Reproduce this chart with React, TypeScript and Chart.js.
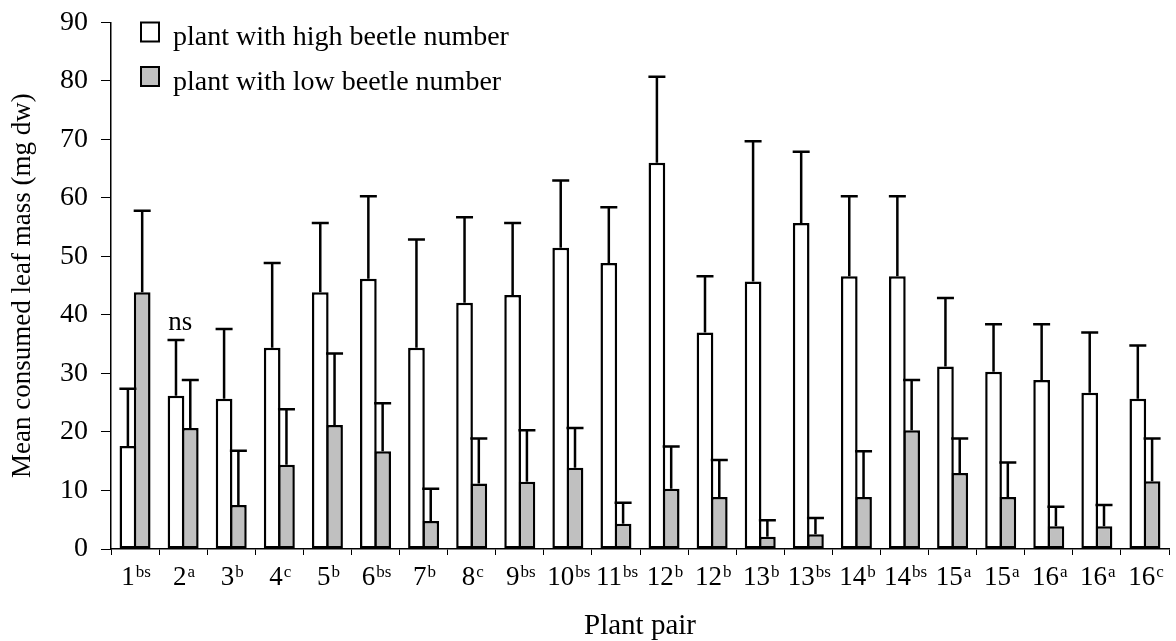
import React, { useEffect, useRef } from 'react';
import { Chart, registerables } from 'chart.js';

Chart.register(...registerables);

const FONT = "'Liberation Serif', 'Times New Roman', serif";

const pairNumbers = ['1', '2', '3', '4', '5', '6', '7', '8', '9', '10', '11', '12', '12', '13', '13', '14', '14', '15', '15', '16', '16', '16'];
const pairSuffixes = ['bs', 'a', 'b', 'c', 'b', 'bs', 'b', 'c', 'bs', 'bs', 'bs', 'b', 'b', 'b', 'bs', 'b', 'bs', 'a', 'a', 'a', 'a', 'c'];

const highMeans = [17.6, 26.2, 25.7, 34.4, 43.9, 46.2, 34.4, 42.1, 43.4, 51.5, 48.9, 66.0, 37.0, 45.7, 55.7, 46.6, 46.6, 31.2, 30.3, 28.9, 26.7, 25.7];
const highSE = [9.8, 9.5, 11.9, 14.5, 11.8, 14.1, 18.5, 14.6, 12.3, 11.5, 9.5, 14.7, 9.6, 24.0, 12.2, 13.7, 13.7, 11.7, 8.1, 9.5, 10.3, 9.1];
const lowMeans = [43.9, 20.7, 7.5, 14.4, 21.2, 16.7, 4.8, 11.2, 11.5, 13.9, 4.3, 10.3, 8.9, 2.1, 2.5, 8.9, 20.3, 13.0, 8.9, 3.9, 3.9, 11.6];
const lowSE = [13.9, 8.2, 9.3, 9.5, 12.2, 8.2, 5.5, 7.7, 8.8, 6.8, 3.6, 7.2, 6.3, 2.8, 2.8, 7.8, 8.6, 5.9, 5.9, 3.3, 3.6, 7.3];

const seriesLabels = ['plant with high beetle number', 'plant with low beetle number'];
const seriesColors = ['#ffffff', '#c0c0c0'];
const errors = [highSE, lowSE];

const yMin = 0;
const yMax = 90;
const yStep = 10;

const yTitle = 'Mean consumed leaf mass (mg dw)';
const xTitle = 'Plant pair';

const nsNote = { index: 1, value: 37.4, text: 'ns' };

const errorBarPlugin = {
  id: 'errorBars',
  afterDatasetsDraw(chart: any) {
    const ctx = chart.ctx;
    const y = chart.scales.y;
    ctx.save();
    ctx.strokeStyle = '#000';
    ctx.lineWidth = 2.5;
    chart.data.datasets.forEach((ds: any, d: number) => {
      const meta = chart.getDatasetMeta(d);
      meta.data.forEach((el: any, i: number) => {
        const top = y.getPixelForValue(ds.data[i] + errors[d][i]);
        const x = el.x;
        ctx.beginPath();
        ctx.moveTo(x, el.y);
        ctx.lineTo(x, top);
        ctx.moveTo(x - 8.5, top);
        ctx.lineTo(x + 8.5, top);
        ctx.stroke();
      });
    });
    ctx.restore();
  },
};

const labelsPlugin = {
  id: 'customLabels',
  afterDraw(chart: any) {
    const ctx = chart.ctx;
    const xs = chart.scales.x;
    const ys = chart.scales.y;
    const area = chart.chartArea;
    ctx.save();
    ctx.fillStyle = '#000';
    ctx.textBaseline = 'alphabetic';
    ctx.textAlign = 'left';
    // x tick labels with superscripts
    pairNumbers.forEach((num, i) => {
      const cx = xs.getPixelForValue(i);
      ctx.font = `27px ${FONT}`;
      const w1 = ctx.measureText(num).width;
      ctx.font = `17px ${FONT}`;
      const w2 = ctx.measureText(pairSuffixes[i]).width;
      const start = cx - (w1 + w2 + 1) / 2 + 1;
      ctx.font = `27px ${FONT}`;
      ctx.fillText(num, start, area.bottom + 36);
      ctx.font = `17px ${FONT}`;
      ctx.fillText(pairSuffixes[i], start + w1 + 1, area.bottom + 28);
    });
    // ns annotation
    ctx.font = `27px ${FONT}`;
    ctx.textAlign = 'center';
    ctx.fillText(nsNote.text, xs.getPixelForValue(nsNote.index) - 3, ys.getPixelForValue(nsNote.value));
    // legend
    ctx.textAlign = 'left';
    ctx.textBaseline = 'alphabetic';
    const rowCenters = [32, 76.5];
    chart.data.datasets.forEach((ds: any, d: number) => {
      const cy = rowCenters[d];
      ctx.fillStyle = ds.backgroundColor;
      ctx.fillRect(141, cy - 9.5, 18, 19);
      ctx.strokeStyle = '#000';
      ctx.lineWidth = 2;
      ctx.strokeRect(141, cy - 9.5, 18, 19);
      ctx.fillStyle = '#000';
      ctx.font = `28px ${FONT}`;
      ctx.fillText(ds.label, 173, cy + 13);
    });
    ctx.restore();
  },
};

export default function App() {
  const canvasRef = useRef<HTMLCanvasElement | null>(null);

  useEffect(() => {
    if (!canvasRef.current) return;
    const chart = new Chart(canvasRef.current, {
      type: 'bar',
      data: {
        labels: pairNumbers.map((n, i) => n + pairSuffixes[i]),
        datasets: [
          {
            label: seriesLabels[0],
            data: highMeans,
            backgroundColor: seriesColors[0],
            borderColor: '#000',
            borderWidth: 2.5,
            borderSkipped: false,
            categoryPercentage: 0.594,
            barPercentage: 1.17,
          },
          {
            label: seriesLabels[1],
            data: lowMeans,
            backgroundColor: seriesColors[1],
            borderColor: '#000',
            borderWidth: 2.5,
            borderSkipped: false,
            categoryPercentage: 0.594,
            barPercentage: 1.17,
          },
        ],
      },
      options: {
        animation: false,
        responsive: true,
        maintainAspectRatio: false,
        layout: { padding: { left: 0, right: 7, top: 22.4, bottom: 0 } },
        plugins: {
          legend: { display: false },
          tooltip: { enabled: false },
        },
        scales: {
          x: {
            afterFit: (s: any) => {
              s.height = 92;
              s.paddingLeft = 0;
              s.paddingRight = 0;
            },
            grid: {
              display: true,
              drawOnChartArea: false,
              drawTicks: true,
              tickLength: 6,
              color: '#000',
              lineWidth: 1,
              offset: true,
            },
            border: { display: true, color: '#000', width: 1.5 },
            ticks: { callback: () => '', font: { size: 10 } },
            title: {
              display: true,
              text: xTitle,
              color: '#000',
              font: { family: FONT, size: 29, lineHeight: 1 },
              padding: { top: 0, bottom: 0 },
            },
          },
          y: {
            min: yMin,
            max: yMax,
            afterFit: (s: any) => {
              s.width = 111;
              s.paddingTop = 0;
              s.paddingBottom = 0;
            },
            ticks: {
              stepSize: yStep,
              color: '#000',
              padding: 13,
              font: { family: FONT, size: 28 },
            },
            grid: {
              display: true,
              drawOnChartArea: false,
              drawTicks: true,
              tickLength: 10,
              color: '#000',
              lineWidth: 1,
            },
            border: { display: true, color: '#000', width: 1.5 },
            title: {
              display: true,
              text: yTitle,
              color: '#000',
              font: { family: FONT, size: 27, lineHeight: 1.2 },
              padding: { top: 7, bottom: 0 },
            },
          },
        },
      },
      plugins: [errorBarPlugin, labelsPlugin],
    });
    return () => chart.destroy();
  }, []);

  return (
    <div style={{ position: 'fixed', left: 0, top: 0, width: 1176, height: 641, background: '#fff' }}>
      <canvas ref={canvasRef} />
    </div>
  );
}
